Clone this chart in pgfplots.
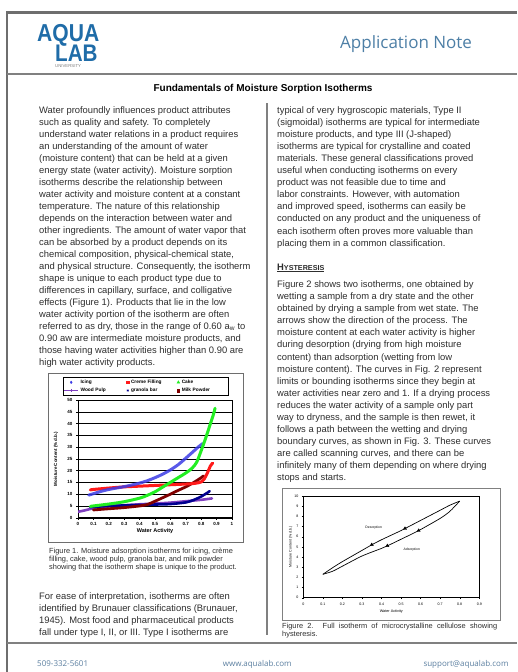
\documentclass[border=0pt]{standalone}
\usepackage{pgfplots}
\pgfplotsset{compat=1.18}
\usepackage{fontspec}
\setmainfont{Liberation Sans}
\newfontfamily\headfont{Open Sans}
\definecolor{bodycol}{HTML}{2E2E2E}
\definecolor{logoblue}{HTML}{1F6CA8}
\definecolor{headblue}{HTML}{4D7FA6}
\definecolor{footblue}{HTML}{5B7FA0}
\definecolor{frame}{HTML}{6E6E6E}
\definecolor{icing}{HTML}{3C3CE6}
\definecolor{creme}{HTML}{FF1A1A}
\definecolor{cake}{HTML}{22EE22}
\definecolor{wood}{HTML}{8040C0}
\definecolor{granola}{HTML}{000090}
\definecolor{milk}{HTML}{800000}
\newcommand\bodyfont{\fontsize{9.4}{11}\selectfont}
\newcommand\LL[3]{\node[anchor=base west,inner sep=0pt,font=\bodyfont,text=bodycol] at (#1pt,-#2pt) {#3};}
\newcommand\CL[3]{\node[anchor=base west,inner sep=0pt,font=\fontsize{7.4}{8}\selectfont,text=bodycol] at (#1pt,-#2pt) {#3};}
\begin{document}
\begin{tikzpicture}
\useasboundingbox (0,0) rectangle (517pt,-672pt);
\fill[white] (0,0) rectangle (517pt,-672pt);
% page frame
\draw[line width=2.2pt, frame] (7pt,-672pt) -- (7pt,-12.5pt) -- (517pt,-12.5pt);
\draw[line width=1.6pt, gray] (7pt,-74pt) -- (517pt,-74pt);
\draw[line width=1.6pt, gray] (7pt,-643pt) -- (517pt,-643pt);
\draw[line width=1.2pt, gray] (267pt,-103pt) -- (267pt,-635pt);
% logo
\node[anchor=base west,inner sep=0pt,text depth=0pt,font=\fontsize{24.5}{25}\selectfont\bfseries,text=logoblue] at (37pt,-41.5pt) {\scalebox{0.86}[1]{AQUA}};
\node[anchor=base west,inner sep=0pt,text depth=0pt,text height=17pt,font=\fontsize{24}{25}\selectfont\bfseries,text=logoblue] at (55pt,-61.5pt) {\scalebox{0.86}[1]{LAB}};
\node[anchor=base west,inner sep=0pt,text height=3pt,font=\fontsize{4.3}{5}\selectfont,text=gray] at (55pt,-67pt) {UNIVERSITY};
% header
\node[anchor=base west,inner sep=0pt,font=\headfont\fontsize{17}{18}\selectfont,text=headblue] at (340pt,-48pt) {Application Note};
\node[anchor=base,inner sep=0pt,font=\fontsize{10}{11}\selectfont\bfseries,text=black] at (263pt,-91.5pt) {Fundamentals of Moisture Sorption Isotherms};
% left column
\LL{39}{113}{Water profoundly influences product attributes}
\LL{39}{125}{such as quality and safety. To completely}
\LL{39}{137}{understand water relations in a product requires}
\LL{39}{149}{an understanding of the amount of water}
\LL{39}{161}{(moisture content) that can be held at a given}
\LL{39}{173}{energy state (water activity). Moisture sorption}
\LL{39}{185}{isotherms describe the relationship between}
\LL{39}{197}{water activity and moisture content at a constant}
\LL{39}{209}{temperature. The nature of this relationship}
\LL{39}{221}{depends on the interaction between water and}
\LL{39}{233}{other ingredients. The amount of water vapor that}
\LL{39}{245}{can be absorbed by a product depends on its}
\LL{39}{257}{chemical composition, physical-chemical state,}
\LL{39}{269}{and physical structure. Consequently, the isotherm}
\LL{39}{281}{shape is unique to each product type due to}
\LL{39}{293}{differences in capillary, surface, and colligative}
\LL{39}{305}{effects (Figure 1). Products that lie in the low}
\LL{39}{317}{water activity portion of the isotherm are often}
\LL{39}{329}{referred to as dry, those in the range of 0.60 a\textsubscript{w} to}
\LL{39}{341}{0.90 aw are intermediate moisture products, and}
\LL{39}{353}{those having water activities higher than 0.90 are}
\LL{39}{365}{high water activity products.}
\LL{39}{599}{For ease of interpretation, isotherms are often}
\LL{39}{611}{identified by Brunauer classifications (Brunauer,}
\LL{39}{623}{1945). Most food and pharmaceutical products}
\LL{39}{635}{fall under type I, II, or III. Type I isotherms are}
% right column
\LL{277}{113}{typical of very hygroscopic materials, Type II}
\LL{277}{125.1}{(sigmoidal) isotherms are typical for intermediate}
\LL{277}{137.2}{moisture products, and type III (J-shaped)}
\LL{277}{149.3}{isotherms are typical for crystalline and coated}
\LL{277}{161.4}{materials. These general classifications proved}
\LL{277}{173.5}{useful when conducting isotherms on every}
\LL{277}{185.6}{product was not feasible due to time and}
\LL{277}{197.7}{labor constraints. However, with automation}
\LL{277}{209.8}{and improved speed, isotherms can easily be}
\LL{277}{221.9}{conducted on any product and the uniqueness of}
\LL{277}{234}{each isotherm often proves more valuable than}
\LL{277}{246.1}{placing them in a common classification.}
\node[anchor=base west,inner sep=0pt,text=bodycol] at (277pt,-270pt) {\underline{\bfseries\fontsize{9.4}{11}\selectfont H\fontsize{7.2}{8}\selectfont YSTERESIS}};
\LL{277}{287.6}{Figure 2 shows two isotherms, one obtained by}
\LL{277}{299.7}{wetting a sample from a dry state and the other}
\LL{277}{311.7}{obtained by drying a sample from wet state. The}
\LL{277}{323.8}{arrows show the direction of the process. The}
\LL{277}{335.9}{moisture content at each water activity is higher}
\LL{277}{347.9}{during desorption (drying from high moisture}
\LL{277}{360.0}{content) than adsorption (wetting from low}
\LL{277}{372.1}{moisture content). The curves in Fig. 2 represent}
\LL{277}{384.2}{limits or bounding isotherms since they begin at}
\LL{277}{396.2}{water activities near zero and 1. If a drying process}
\LL{277}{408.3}{reduces the water activity of a sample only part}
\LL{277}{420.4}{way to dryness, and the sample is then rewet, it}
\LL{277}{432.4}{follows a path between the wetting and drying}
\LL{277}{444.5}{boundary curves, as shown in Fig. 3. These curves}
\LL{277}{456.6}{are called scanning curves, and there can be}
\LL{277}{468.7}{infinitely many of them depending on where drying}
\LL{277}{480.7}{stops and starts.}
% footer
\node[anchor=base west,inner sep=0pt,font=\headfont\fontsize{8}{9}\selectfont,text=footblue] at (37pt,-666pt) {509-332-5601};
\node[anchor=base west,inner sep=0pt,font=\headfont\fontsize{8}{9}\selectfont,text=footblue] at (222.7pt,-666pt) {www.aqualab.com};
\node[anchor=base west,inner sep=0pt,font=\headfont\fontsize{8}{9}\selectfont,text=footblue] at (423.3pt,-666pt) {support@aqualab.com};
% ---------------- Figure 1 ----------------
\draw[line width=0.6pt, frame] (48pt,-373pt) rectangle (243pt,-542pt);
\begin{axis}[
  scale only axis, width=154pt, height=117.7pt,
  at={(78pt,-517.7pt)}, anchor=south west,
  xmin=0, xmax=1, ymin=0, ymax=50,
  xtick={0,0.1,0.2,0.3,0.4,0.5,0.6,0.7,0.8,0.9,1},
  xticklabels={0,0.1,0.2,0.3,0.4,0.5,0.6,0.7,0.8,0.9,1},
  ytick={0,5,10,15,20,25,30,35,40,45,50},
  yticklabels={0,5,10,15,20,25,30,35,40,45,50},
  xtick pos=bottom, ytick pos=left, tick align=outside,
  major tick length=2pt, tick style={black,line width=0.4pt},
  ymajorgrids, grid style={black,line width=0.4pt},
  axis line style={black,line width=0.8pt},
  ticklabel style={font=\fontsize{4.5}{5}\selectfont\bfseries},
  xticklabel style={yshift=1pt},
  xlabel={Water Activity}, ylabel={Moisture Content (\% d.b.)},
  xlabel style={font=\fontsize{5.5}{6}\selectfont\bfseries, at={(rel axis cs:0.5,-0.113)}, anchor=center},
  ylabel style={font=\fontsize{4.5}{5}\selectfont\bfseries, at={(rel axis cs:-0.143,0.5)}, anchor=center},
  legend columns=3,
  legend image code/.code={\draw[mark repeat=2,mark phase=2] plot coordinates {(0pt,0pt) (7pt,0pt) (14pt,0pt)};},
  legend style={at={(-0.0974,1.195)}, anchor=north west, draw=black, fill=white,
    font=\fontsize{4.8}{5}\selectfont\bfseries, inner sep=0.6pt, row sep=-0.8pt,
    /tikz/every even column/.append style={text width=44pt}},
  legend cell align=left,
]
\addlegendimage{only marks, mark=diamond*, mark size=1.3pt, icing}
\addlegendentry{Icing}
\addlegendimage{only marks, mark=square*, mark size=1.2pt, creme}
\addlegendentry{Creme Filling}
\addlegendimage{only marks, mark=triangle*, mark size=1.6pt, cake}
\addlegendentry{Cake}
\addlegendimage{wood, line width=0.8pt, mark=+, mark size=1.3pt}
\addlegendentry{Wood Pulp}
\addlegendimage{only marks, mark=asterisk, mark size=1.2pt, granola}
\addlegendentry{granola bar}
\addlegendimage{only marks, mark=square*, mark size=1.2pt, milk}
\addlegendentry{Milk Powder}
% Wood Pulp
\addplot[forget plot, wood, line width=2.6pt, smooth, line cap=round] coordinates {
(0.0,2.5)(0.05,3.2)(0.1,4.0)(0.2,4.8)(0.3,5.3)(0.4,5.7)(0.5,6.0)(0.6,6.4)(0.7,7.0)(0.8,7.6)(0.87,8.2)};
% granola bar
\addplot[forget plot, granola, line width=2.6pt, smooth, line cap=round] coordinates {
(0.08,4.5)(0.2,5.0)(0.3,5.2)(0.4,5.4)(0.5,5.6)(0.6,5.8)(0.7,6.5)(0.75,7.5)(0.8,9.0)(0.84,10.6)(0.855,11.3)};
% Milk Powder
\addplot[forget plot, milk, line width=2.8pt, smooth, line cap=round] coordinates {
(0.1,3.3)(0.2,3.8)(0.3,4.3)(0.4,5.0)(0.45,5.6)(0.5,7.0)(0.55,8.5)(0.6,10.0)(0.65,11.6)(0.7,13.1)(0.75,14.9)(0.8,17.0)(0.815,17.8)};
% Creme Filling
\addplot[forget plot, creme, line width=3pt, smooth, line cap=round] coordinates {
(0.08,11.8)(0.1,12.0)(0.2,12.6)(0.3,13.1)(0.4,13.4)(0.5,13.7)(0.6,14.0)(0.7,14.3)(0.76,14.6)(0.8,15.2)(0.82,16.5)(0.84,19.0)(0.86,22.0)(0.875,23.2)};
% Icing
\addplot[forget plot, icing, line width=3pt, smooth, line cap=round, opacity=0.85] coordinates {
(0.07,9.6)(0.1,10.2)(0.15,11.2)(0.2,12.0)(0.25,12.6)(0.3,13.2)(0.35,13.9)(0.4,14.7)(0.45,15.7)(0.5,17.0)(0.55,18.5)(0.6,20.3)(0.65,22.5)(0.7,25.3)(0.75,28.2)(0.78,30.0)(0.81,31.5)};
% Cake
\addplot[forget plot, cake, line width=3pt, smooth, line cap=round] coordinates {
(0.08,4.8)(0.1,5.0)(0.2,5.8)(0.3,6.8)(0.4,8.3)(0.45,9.5)(0.5,11.0)(0.55,13.0)(0.6,15.0)(0.65,17.0)(0.7,19.0)(0.74,21.0)(0.77,23.5)(0.8,28.5)(0.83,34.0)(0.86,40.0)(0.88,44.0)(0.89,46.5)};
\end{axis}
\CL{49}{553}{Figure 1. Moisture adsorption isotherms for icing, crème}
\CL{49}{561}{filling, cake, wood pulp, granola bar, and milk powder}
\CL{49}{569}{showing that the isotherm shape is unique to the product.}
% ---------------- Figure 2 ----------------
\draw[line width=0.5pt, gray] (282.7pt,-488pt) rectangle (500pt,-620pt);
\begin{axis}[
  scale only axis, width=176pt, height=101.7pt,
  at={(303.3pt,-597.7pt)}, anchor=south west,
  xmin=0, xmax=0.9, ymin=0, ymax=10,
  xtick={0,0.1,0.2,0.3,0.4,0.5,0.6,0.7,0.8,0.9},
  xticklabels={0,0.1,0.2,0.3,0.4,0.5,0.6,0.7,0.8,0.9},
  ytick={0,1,2,3,4,5,6,7,8,9,10},
  yticklabels={0,1,2,3,4,5,6,7,8,9,10},
  xtick pos=bottom, ytick pos=left, tick align=outside,
  major tick length=1.5pt, tick style={black,line width=0.3pt},
  axis line style={black,line width=0.5pt},
  ticklabel style={font=\fontsize{3.6}{4}\selectfont},
  xlabel={Water Activity}, ylabel={Moisture Content (\% d.b.)},
  xlabel style={font=\fontsize{3.8}{4}\selectfont, at={(rel axis cs:0.5,-0.138)}, anchor=center},
  ylabel style={font=\fontsize{3.6}{4}\selectfont, at={(rel axis cs:-0.0716,0.5)}, anchor=center},
]
% Desorption (upper)
\addplot[black, line width=0.7pt, smooth, tension=0.4] coordinates {
(0.1,2.3)(0.15,2.95)(0.2,3.55)(0.3,4.65)(0.35,5.2)(0.4,5.7)(0.5,6.6)(0.52,6.8)(0.6,7.6)(0.7,8.6)(0.75,9.1)(0.8,9.5)};
% Adsorption (lower)
\addplot[black, line width=0.7pt, smooth, tension=0.4] coordinates {
(0.1,2.3)(0.15,2.6)(0.2,3.1)(0.3,4.1)(0.4,4.85)(0.43,5.1)(0.5,5.75)(0.59,6.6)(0.7,7.8)(0.75,8.5)(0.8,9.5)};
\addplot[only marks, black, mark=triangle*, mark size=1.8pt] coordinates {(0.35,5.2)(0.52,6.8)(0.43,5.1)(0.59,6.6)};
\node[font=\fontsize{3.4}{4}\selectfont] at (axis cs:0.36,6.9) {Desorption};
\node[font=\fontsize{3.4}{4}\selectfont] at (axis cs:0.555,4.75) {Adsorption};
\end{axis}
\node[anchor=base west,inner sep=0pt,font=\fontsize{7.4}{8}\selectfont,text=bodycol] at (282pt,-628pt) {\makebox[215pt][s]{Figure 2. Full isotherm of microcrystalline cellulose showing}};
\CL{282}{636}{hysteresis.}
\end{tikzpicture}
\end{document}
